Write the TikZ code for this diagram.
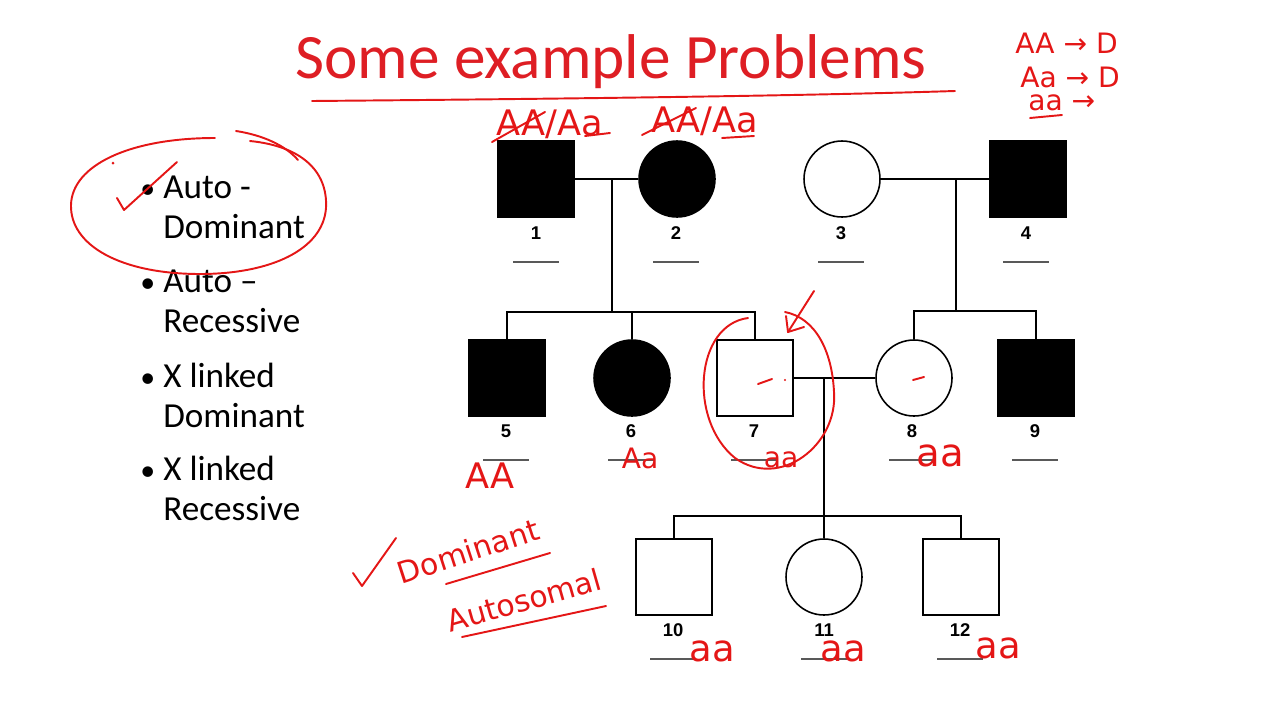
\documentclass[tikz,border=0pt]{standalone}
\usepackage{fontspec}
\setmainfont{Carlito}
\newfontfamily\numfont{Liberation Sans}
\newfontfamily\inkfont{DejaVu Sans}
\usetikzlibrary{positioning}
\definecolor{slidered}{RGB}{222,30,36}
\definecolor{inkred}{RGB}{228,22,22}

\begin{document}
\begin{tikzpicture}[x=0.02cm, y=-0.02cm,
    male/.style={draw, line width=0.9pt, minimum size=1.53cm, inner sep=0pt},
    female/.style={draw, circle, line width=0.9pt, minimum size=1.52cm, inner sep=0pt},
    aff/.style={fill=black},
    num/.style={font=\numfont\bfseries\fontsize{10.5}{12}\selectfont, inner sep=0pt},
    blank/.style={draw=black!65, line width=0.7pt},
    link/.style={line width=0.9pt},
    ink/.style={draw=inkred, line width=1.1pt, line cap=round, line join=round},
    inktxt/.style={text=inkred, font=\inkfont\fontsize{16}{18}\selectfont, inner sep=0pt},
    item/.style={anchor=base west, font=\fontsize{20}{24}\selectfont, inner sep=0pt},
]
\useasboundingbox (0,0) rectangle (1280,720);

% Title
\node[font=\fontsize{36}{43}\selectfont, text=slidered, anchor=base, inner sep=0pt] (title) at (611,78) {Some example Problems};

% Bullet list
\foreach \y/\a/\b in {198/Auto -/Dominant, 292/Auto –/Recessive, 387/X linked/Dominant, 480/X linked/Recessive}{
    \node[item, font=\fontsize{17}{20}\selectfont] (dot\y) at (140,\y) {•};
    \node[item] (ta\y) at (163,\y) {\a};
    \node[item] (tb\y) at (163,\y+40) {\b};
}

% Generation I
\node[male, aff] (p1) at (536,179) {};
\node[female, aff] (p2) at (677,179) {};
\node[female] (p3) at (842,179) {};
\node[male, aff] (p4) at (1028,179) {};

% Generation II
\node[male, aff] (p5) at (507,378) {};
\node[female, aff] (p6) at (632,378) {};
\node[male] (p7) at (755,378) {};
\node[female] (p8) at (914,378) {};
\node[male, aff] (p9) at (1036,378) {};

% Generation III
\node[male] (p10) at (674,577) {};
\node[female] (p11) at (824,577) {};
\node[male] (p12) at (961,577) {};

% Numbers and blanks
\foreach \n/\x/\y in {1/536/233, 2/676/233, 3/841/233, 4/1026/233,
    5/506/431, 6/631/431, 7/754/431, 8/912/431, 9/1035/431,
    10/673/630, 11/824/630, 12/960/630}{
    \node[num] (n\n) at (\x,\y) {\n};
    \draw[blank] (\x-23,\y+29) -- (\x+23,\y+29);
}

% Matings and sibships
\coordinate (m12) at (612,179);
\coordinate (s12) at (612,312);
\coordinate (m34) at (956,179);
\coordinate (s34) at (956,311);
\coordinate (m78) at (824,378);
\coordinate (s78) at (824,516);
\draw[link] (p1.east) -- (p2.west);
\draw[link] (p3.east) -- (p4.west);
\draw[link] (p7.east) -- (p8.west);
\draw[link] (m12) -- (s12);
\draw[link] (m34) -- (s34);
\draw[link] (m78) -- (s78);
\draw[link] (p5.north) |- (s12) -| (p7.north);
\draw[link] (p6.north) -- (p6.north |- s12);
\draw[link] (p8.north) |- (s34) -| (p9.north);
\draw[link] (p10.north) |- (s78) -| (p12.north);
\draw[link] (p11.north) -- (s78);

% Red ink: title and key
\draw[ink] (312,101) .. controls (550,99) and (800,96) .. (955,91);
\node[inktxt, anchor=base west] (k1) at (1015,53) {AA → D};
\node[inktxt, anchor=base west] (k2) at (1020,87) {Aa → D};
\node[inktxt, anchor=base west] (k3) at (1028,110) {aa →};
\draw[ink] (1030,118) -- (1062,115);

% Red ink: bullet choice
\draw[ink] (236,131) .. controls (262,135) and (285,145) .. (298,160);
\draw[ink] (250,141) .. controls (300,146) and (328,170) .. (326,208)
    .. controls (323,250) and (270,274) .. (200,274)
    .. controls (120,274) and (70,245) .. (71,205)
    .. controls (72,165) and (130,138) .. (215,138);
\draw[ink] (117,198) -- (124,210) -- (177,162);
\fill[inkred] (113,163) circle (1.5);

% Red ink: genotypes above generation I
\node[inktxt, font=\inkfont\fontsize{20}{22}\selectfont, anchor=base] (g1) at (550,135) {AA/Aa};
\node[inktxt, font=\inkfont\fontsize{20}{22}\selectfont, anchor=base] (g2) at (705,132) {AA/Aa};
\draw[ink] (492,142) -- (545,112);
\draw[ink] (585,136) -- (610,133);
\draw[ink] (642,135) -- (696,108);
\draw[ink] (722,138) -- (754,136);

% Red ink: generation II
\node[inktxt, font=\inkfont\fontsize{20}{22}\selectfont, anchor=base] (g5) at (490,488) {AA};
\node[inktxt, anchor=base] (g6) at (640,468) {Aa};
\node[inktxt, anchor=base] (g7) at (781,467) {aa};
\node[inktxt, font=\inkfont\fontsize{22}{24}\selectfont, anchor=base] (g8) at (940,466) {aa};
\draw[ink] (748,318) .. controls (695,325) and (688,420) .. (735,458)
    .. controls (780,490) and (838,445) .. (834,392)
    .. controls (832,350) and (815,318) .. (785,312);
\draw[ink] (814,291) -- (788,332);
\draw[ink] (786,316) -- (788,332) -- (804,327);
\draw[ink] (758,384) -- (772,379);
\fill[inkred] (785,380) circle (1.2);
\draw[ink] (913,380) -- (924,377);

% Red ink: generation III
\node[inktxt, font=\inkfont\fontsize{21}{24}\selectfont, anchor=base] (g10) at (712,661) {aa};
\node[inktxt, font=\inkfont\fontsize{21}{24}\selectfont, anchor=base] (g11) at (843,661) {aa};
\node[inktxt, font=\inkfont\fontsize{21}{24}\selectfont, anchor=base] (g12) at (998,658) {aa};

% Red ink: conclusion
\node[inktxt, font=\inkfont\fontsize{17}{20}\selectfont, rotate=18] (dom) at (468,551) {Dominant};
\node[inktxt, font=\inkfont\fontsize{17}{20}\selectfont, rotate=16] (aut) at (524,600) {Autosomal};
\draw[ink] (353,573) -- (362,586) -- (396,538);
\draw[ink] (446,584) -- (550,553);
\draw[ink] (462,637) -- (606,606);
\end{tikzpicture}
\end{document}
